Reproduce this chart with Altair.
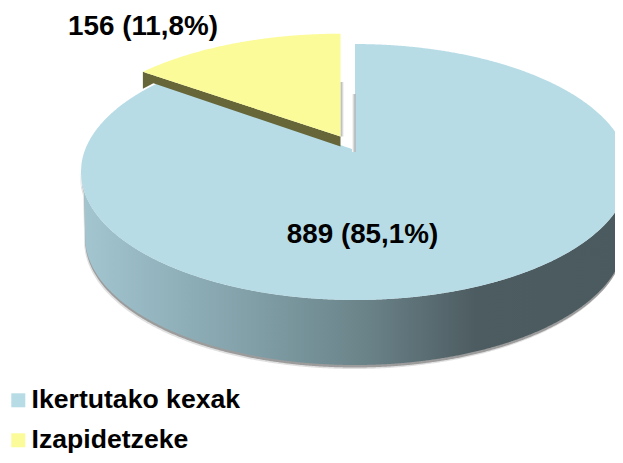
import numpy as np
import pandas as pd
import altair as alt

# ---- chart values
categories = ["Ikertutako kexak", "Izapidetzeke"]
counts = [889, 156]
labels = ["889 (85,1%)", "156 (11,8%)"]
colors = ["#B7DCE6", "#FBFB99"]

# ---- drawing frame and perspective of the tilted disc
W, H = 615, 455
CX, CY = 355.0, 150.0
A, B, K = 270.0, 124.2, 0.172
DEPTH = 65.0
OFF_X, OFF_Y, OFF_S = -14.5, -13.5, 0.97

share = counts[1] / sum(counts)
cut = 2 * np.pi * share


def project(t, cx=CX, cy=CY, sx=1.0, sy=1.0):
    """Angle clockwise from 12 o'clock on the disc -> drawing position."""
    u, v = np.sin(t), np.cos(t)
    d = 1 + K * v
    return cx + sx * A * u / d, cy - sy * B * v / d


tt = np.linspace(0, 2 * np.pi, 1441)
ex, ey = project(tt)
ileft, iright = int(np.argmin(ex)), int(np.argmax(ex))
i0, i1 = sorted((ileft, iright))
front_mask = np.zeros_like(tt, dtype=bool)
front_mask[i0 : i1 + 1] = True
if ey[front_mask].mean() < CY:
    front_mask = ~front_mask


def edge(xq, xs, ys):
    o = np.argsort(xs)
    return np.interp(xq, xs[o], ys[o])


def front(xq):
    return edge(xq, ex[front_mask], ey[front_mask])


def back(xq):
    return edge(xq, ex[~front_mask], ey[~front_mask])


xmin, xmax = ex.min(), ex.max()

# side wall of the big slice
bx, by = project(tt, cy=CY + DEPTH, sx=0.985, sy=1.0)
grid = np.linspace(xmin, xmax, 500)
bottom_front = np.where(
    (grid >= bx.min()) & (grid <= bx.max()),
    edge(grid, bx[front_mask], by[front_mask]),
    front(grid),
)
bottom_front = np.maximum(bottom_front, front(grid))
wall = pd.DataFrame({"x": grid, "y": front(grid), "y2": bottom_front})
shadow = pd.DataFrame({"x": grid, "y": front(grid), "y2": bottom_front + 2.5})
shadow_soft = pd.DataFrame({"x": grid - 1, "y": front(grid), "y2": bottom_front + 4})

# top of the big slice
cx_end, cy_end = project(-cut)
left = np.linspace(xmin, cx_end, 120)
mid = np.linspace(cx_end, CX, 120)
right = np.linspace(CX + 0.01, xmax, 240)
big_x = np.concatenate([left, mid, right])
big_top = np.concatenate(
    [back(left), cy_end + (mid - cx_end) * (CY - cy_end) / (CX - cx_end), back(right)]
)
big = pd.DataFrame({"x": big_x, "y": big_top, "y2": front(big_x), "cat": categories[0]})

# small exploded slice
scx, scy = CX + OFF_X, CY + OFF_Y
st = np.linspace(-cut, 0, 200)
sx_, sy_ = project(st, cx=scx, cy=scy, sy=OFF_S)
sl_x, sl_y = sx_[0], sy_[0]
small_line = sl_y + (sx_ - sl_x) * (scy - sl_y) / (scx - sl_x)
small = pd.DataFrame({"x": sx_, "y": sy_, "y2": small_line, "cat": categories[1]})

# olive cut wall of the small slice
olive_bits = pd.DataFrame(
    {
        "x": [sl_x, cx_end - 4, scx],
        "y": [sl_y, sl_y + (cx_end - 4 - sl_x) * (scy - sl_y) / (scx - sl_x), scy],
        "y2": [sl_y + 17, cy_end, scy + 10],
    }
)

# thin grey shadows in the gap
gap_a = pd.DataFrame({"x": [scx], "x2": [scx + 3.5], "y": [82], "y2": [scy]})
gap_b = pd.DataFrame({"x": [CX - 3], "x2": [CX + 0.5], "y": [94], "y2": [CY + 2]})

xs = alt.Scale(domain=[8, W], nice=False, zero=False)
ys = alt.Scale(domain=[H, 8], nice=False, zero=False)
X = alt.X("x:Q", scale=xs, axis=None)
Y = alt.Y("y:Q", scale=ys, axis=None)
Y2 = alt.Y2("y2:Q")

side_fill = alt.Gradient(
    gradient="linear",
    x1=0, x2=1, y1=0, y2=0,
    stops=[
        alt.GradientStop(offset=0, color="#A3C6D1"),
        alt.GradientStop(offset=0.33, color="#7F9DA5"),
        alt.GradientStop(offset=0.52, color="#6A8389"),
        alt.GradientStop(offset=0.72, color="#4D5C61"),
        alt.GradientStop(offset=1, color="#4B5A5F"),
    ],
)
gap_fill = alt.Gradient(
    gradient="linear",
    x1=0, x2=1, y1=0, y2=0,
    stops=[
        alt.GradientStop(offset=0, color="#A8A8A8"),
        alt.GradientStop(offset=1, color="#FFFFFF"),
    ],
)
gap_fill_r = alt.Gradient(
    gradient="linear",
    x1=0, x2=1, y1=0, y2=0,
    stops=[
        alt.GradientStop(offset=0, color="#FFFFFF"),
        alt.GradientStop(offset=1, color="#A8A8A8"),
    ],
)

color = alt.Color(
    "cat:N",
    scale=alt.Scale(domain=categories, range=colors),
    legend=alt.Legend(
        title=None,
        orient="none",
        legendX=-3,
        legendY=379,
        symbolType="square",
        symbolSize=196,
        symbolOpacity=1,
        symbolStrokeWidth=0,
        labelFont="Liberation Sans",
        labelFontWeight="bold",
        labelFontSize=26.6,
        labelColor="#000000",
        labelLimit=400,
        labelOffset=0,
        rowPadding=13,
        padding=0,
    ),
)

layers = [
    alt.Chart(shadow_soft).mark_area(color="#000000", opacity=0.12, clip=True).encode(X, Y, Y2),
    alt.Chart(shadow).mark_area(color="#000000", opacity=0.3, clip=True).encode(X, Y, Y2),
    alt.Chart(wall).mark_area(color=side_fill, clip=True).encode(X, Y, Y2),
    alt.Chart(big).mark_area(clip=True).encode(X, Y, Y2, color=color),
    alt.Chart(gap_a).mark_rect(color=gap_fill).encode(
        alt.X("x:Q", scale=xs, axis=None), alt.X2("x2:Q"), Y, Y2
    ),
    alt.Chart(gap_b).mark_rect(color=gap_fill_r).encode(
        alt.X("x:Q", scale=xs, axis=None), alt.X2("x2:Q"), Y, Y2
    ),
    alt.Chart(olive_bits).mark_area(color="#666639", clip=True).encode(X, Y, Y2),
    alt.Chart(small).mark_area(clip=True).encode(X, Y, Y2, color=color),
]

texts = pd.DataFrame({"x": [362.5, 143], "y": [235, 27], "t": labels})
layers.append(
    alt.Chart(texts)
    .mark_text(
        font="Liberation Sans", fontWeight="bold", fontSize=27.8,
        color="#000000", align="center", baseline="middle",
    )
    .encode(X, Y, text="t:N")
)

chart = (
    alt.layer(*layers)
    .properties(
        width=W - 8,
        height=H - 8,
        padding=0,
        background="#FFFFFF",
        autosize=alt.AutoSizeParams(type="none"),
    )
    .configure_view(stroke=None)
)

chart.save("out.html", embed_options={"renderer": "svg", "actions": False})
